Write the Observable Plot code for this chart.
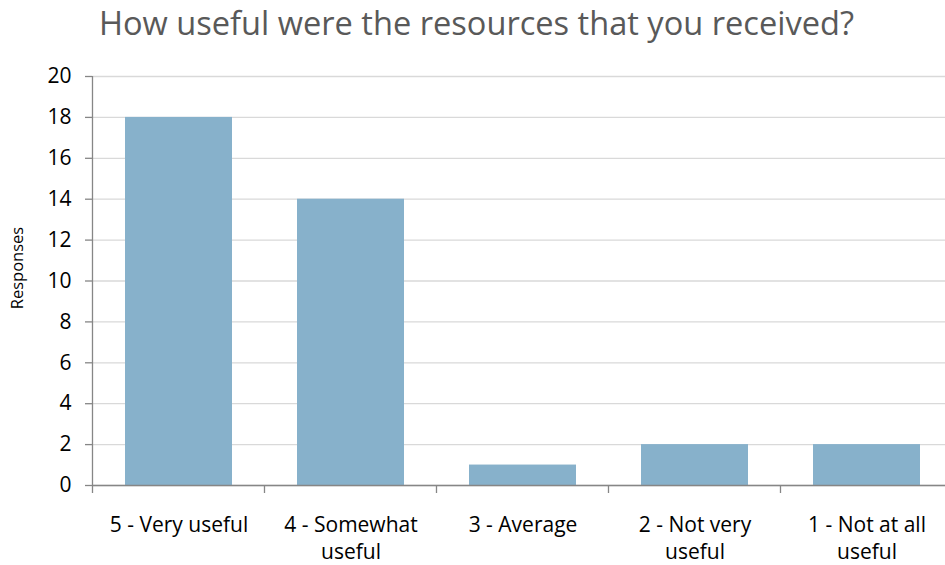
<!DOCTYPE html>
<html>
<head>
<meta charset="utf-8">
<script src="https://cdn.jsdelivr.net/npm/d3@7"></script>
<script src="https://cdn.jsdelivr.net/npm/@observablehq/plot@0.6"></script>
<style>
  html, body { margin: 0; padding: 0; background: #fff; }
  #wrap { position: relative; width: 945px; height: 565px; overflow: hidden; font-family: "Open Sans", sans-serif; }
  #title { position: absolute; left: 0; top: 6.5px; width: 953px; text-align: center; font-size: 32.6px; line-height: 1; color: #595959; white-space: nowrap; }
  #chart { position: absolute; left: 0; top: 0; }
</style>
</head>
<body>
<div id="wrap">
  <div id="chart"></div>
  <div id="title">How useful were the resources that you received?</div>
</div>
<script>
// Survey answers and their response counts
const categories = ["5 - Very useful", "4 - Somewhat useful", "3 - Average", "2 - Not very useful", "1 - Not at all useful"];
const responses = [18, 14, 1, 2, 2];
// Axis labels, broken into lines as they are printed under each bar
const tickLabels = ["5 - Very useful", "4 - Somewhat\nuseful", "3 - Average", "2 - Not very\nuseful", "1 - Not at all\nuseful"];
const yTicks = [0, 2, 4, 6, 8, 10, 12, 14, 16, 18, 20];

const data = categories.map((c, i) => ({category: c, responses: responses[i]}));

const axisColor = "#868686";
const gridColor = "#d9d9d9";
const paddingInner = 0.378;

// Category boundary ticks and the vertical value axis line, placed from the band scale
function categoryAxisLines(index, scales) {
  const x = scales.x, y = scales.y;
  const step = x(categories[1]) - x(categories[0]);
  const gap = step * paddingInner / 2;
  const y0 = y(0);
  const g = d3.create("svg:g").attr("stroke", axisColor).attr("stroke-width", 1.3);
  categories.forEach(c => {
    const bx = x(c) - gap;
    g.append("line").attr("x1", bx).attr("x2", bx).attr("y1", y0).attr("y2", y0 + 8);
  });
  const left = x(categories[0]) - gap;
  g.append("line").attr("x1", left).attr("x2", left).attr("y1", y(20)).attr("y2", y0);
  return g.node();
}

const plot = Plot.plot({
  width: 945,
  height: 565,
  marginTop: 76,
  marginBottom: 80,
  marginLeft: 92,
  marginRight: 0,
  style: {fontFamily: "'Open Sans', sans-serif", color: "#000", background: "transparent"},
  x: {domain: categories, range: [92, 952], paddingInner: paddingInner, paddingOuter: paddingInner / 2},
  y: {domain: [0, 20], ticks: yTicks},
  marks: [
    Plot.gridY(yTicks, {stroke: gridColor, strokeOpacity: 1, strokeWidth: 1.3}),
    Plot.barY(data, {x: "category", y: "responses", fill: "#87b1cb"}),
    Plot.ruleY([0], {stroke: axisColor, strokeWidth: 1.3}),
    categoryAxisLines,
    Plot.axisY(yTicks, {tickSize: 7, tickPadding: 14, stroke: axisColor, strokeWidth: 1.3, fontSize: 21, fill: "#000", label: null}),
    Plot.axisX({tickSize: 0, tickPadding: 27, fontSize: 21, lineHeight: 1.3, fill: "#000", label: null,
      tickFormat: d => tickLabels[categories.indexOf(d)]}),
    Plot.text(["Responses"], {frameAnchor: "left", textAnchor: "middle", rotate: -90, dx: -75, dy: -13, fontSize: 16.5, fill: "#000"})
  ]
});
document.getElementById("chart").append(plot);
</script>
</body>
</html>
